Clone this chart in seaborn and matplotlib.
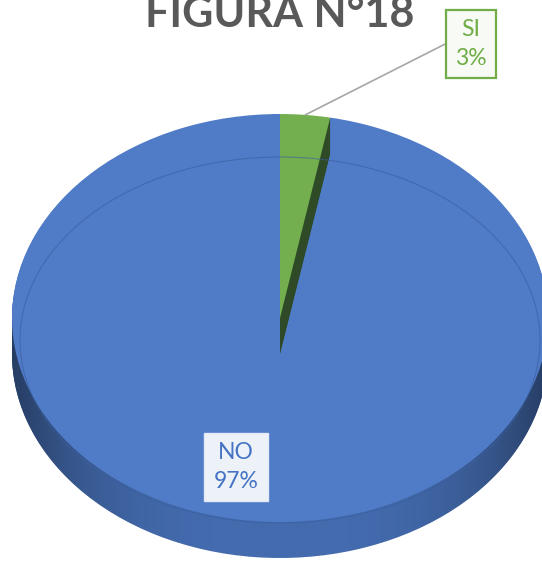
import matplotlib
matplotlib.use("Agg")
import matplotlib.pyplot as plt
from matplotlib.patches import Ellipse, PathPatch
from matplotlib.path import Path
import numpy as np
import seaborn as sns

# chart data
categories = ["SI", "NO"]
shares = [3, 97]
top_colors = ["#74AF4F", "#4F7BC7"]
side_colors = ["#2E4A27", "#4770B6"]
text_colors = ["#70AD47", "#4472C4"]

sns.set_theme(style="white")
plt.rcParams["font.family"] = ["Lato", "DejaVu Sans"]

W, H = 542, 562
fig = plt.figure(figsize=(W / 100, H / 100), dpi=100)
ax = fig.add_axes([0, 0, 1, 1])

# pixel layout of the tilted pie (top face ellipse) and its thickness
cx, cy, rx, ry, depth = 280, 318, 268, 204, 36
d = depth / ry
steps = 36
pie_kw = dict(startangle=90, counterclock=False, radius=1, wedgeprops=dict(linewidth=0))

# side of the disc: stack of shifted copies
for k in range(steps, 0, -1):
    ax.pie(shares, colors=side_colors, center=(0, -d * k / steps), **pie_kw)

# shading of the side wall, darker toward the edges
t1 = np.linspace(0, np.pi, 100)
t2 = np.linspace(np.pi, 2 * np.pi, 100)
hull = np.vstack([np.c_[np.cos(t1), np.sin(t1)], np.c_[np.cos(t2), np.sin(t2) - d]])
clip = PathPatch(Path(hull), transform=ax.transData, fc="none", ec="none")
ax.add_patch(clip)
gx = np.linspace(-1, 1, 400)
shade = np.zeros((2, 400, 4))
shade[..., 3] = 0.04 + 0.42 * np.abs(gx) ** 3
img = ax.imshow(shade, extent=(-1, 1, -1 - d, 0), aspect="auto", zorder=1,
                interpolation="bilinear")
img.set_clip_path(clip)

# top face of NO slice, then SI side + top so its cut face shows
ax.pie(shares, colors=["none", top_colors[1]], **pie_kw)
for k in range(steps, 0, -1):
    ax.pie(shares, colors=[side_colors[0], "none"], center=(0, -d * k / steps), **pie_kw)
ax.pie(shares, colors=[top_colors[0], "none"], **pie_kw)

# rim line on the top face
ax.add_patch(Ellipse((0, -22 / ry), 2 * 260 / rx, 2 * 183 / ry, fill=False,
                     ec="#3A5E9F", lw=0.8, alpha=0.6, zorder=5))

ax.set_aspect("auto")
ax.set_xlim(-cx / rx, (W - cx) / rx)
ax.set_ylim(-(H - cy) / ry, cy / ry)
ax.axis("off")

# data labels
ang_si = 90 - shares[0] / sum(shares) * 360 / 2
tip = (np.cos(np.radians(ang_si)), np.sin(np.radians(ang_si)))
ax.annotate(f"{categories[0]}\n{shares[0]}%", xy=tip,
            xytext=((471 - cx) / rx, (cy - 44) / ry),
            ha="center", va="center", fontsize=16.5, color=text_colors[0],
            linespacing=1.45, zorder=10,
            bbox=dict(boxstyle="square,pad=0.38", fc="#F7FAF5", ec=text_colors[0], lw=1.6),
            arrowprops=dict(arrowstyle="-", color="#A6A6A6", lw=1.2, relpos=(0, 0.5),
                            shrinkA=0, shrinkB=0,
                            connectionstyle="arc,angleA=180,armA=10,angleB=0,armB=0,rad=0"))
ax.text((236 - cx) / rx, (cy - 467) / ry, f"{categories[1]}\n{shares[1]}%",
        ha="center", va="center", fontsize=16.5, color=text_colors[1],
        linespacing=1.45, zorder=10,
        bbox=dict(boxstyle="square,pad=0.42", fc="#EDF1F8", ec="#E4EAF5", lw=1))

fig.text(280 / W, (H - 27) / H, "FIGURA N°18", ha="center", va="baseline",
         fontsize=31, fontweight="bold", color="#595959")

fig.savefig("out.png", dpi=100)
